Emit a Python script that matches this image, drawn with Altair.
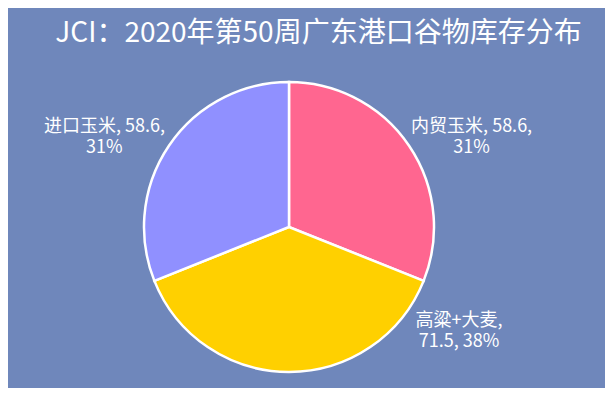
import math
import altair as alt
import pandas as pd

categories = ["内贸玉米", "高粱+大麦", "进口玉米"]
values = [58.6, 71.5, 58.6]
percents = ["31%", "38%", "31%"]
labels = ["内贸玉米, 58.6,\n31%", "高粱+大麦,\n71.5, 38%", "进口玉米, 58.6,\n31%"]
colors = ["#FF6690", "#FFD000", "#9090FF"]
order = [1, 2, 3]

df = pd.DataFrame({"cat": categories, "value": values, "pct": percents,
                   "label": labels, "ord": order})

FONT = "Noto Sans CJK SC"
CX, CY = 281, 159
theta_scale = alt.Scale(domain=[0, 1], range=[0, 2 * math.pi])

base = alt.Chart(df).transform_joinaggregate(
    total="sum(value)"
).transform_window(
    cum="sum(value)", sort=[alt.SortField("ord")], frame=[None, 0]
).transform_calculate(
    start="(datum.cum - datum.value) / datum.total",
    end="datum.cum / datum.total",
    mid="(datum.cum - datum.value / 2) / datum.total",
)

pie = base.mark_arc(outerRadius=145, stroke="white", strokeWidth=2.5).encode(
    x=alt.value(CX), y=alt.value(CY),
    theta=alt.Theta("start:Q", scale=theta_scale),
    theta2="end:Q",
    color=alt.Color("cat:N", scale=alt.Scale(domain=categories, range=colors), legend=None),
)

def label_layer(cat, radius, dx, dy):
    return base.transform_filter(alt.datum.cat == cat).mark_text(
        radius=radius, dx=dx, dy=dy, font=FONT, fontSize=18, color="white",
        lineBreak="\n", align="center", baseline="middle", lineHeight=21,
    ).encode(
        x=alt.value(CX), y=alt.value(CY),
        theta=alt.Theta("mid:Q", scale=theta_scale),
        text="label:N",
    )

lab1 = label_layer("内贸玉米", 200, 17, 12)
lab2 = label_layer("高粱+大麦", 94, 170, 0)
lab3 = label_layer("进口玉米", 200, -19, 12)

chart = alt.layer(pie, lab1, lab2, lab3).properties(
    width=597, height=320,
    padding={"left": 0, "top": 60, "right": 0, "bottom": 0},
    autosize=alt.AutoSizeParams(type="none"),
    title=alt.TitleParams(
        "JCI：2020年第50周广东港口谷物库存分布",
        anchor="middle", dx=12, offset=6, baseline="middle",
        font=FONT, fontSize=28, fontWeight="normal", color="white",
    ),
).configure(background="#6F87BB").configure_view(stroke=None)

chart.save("out.html", embed_options={"renderer": "svg", "actions": False})
